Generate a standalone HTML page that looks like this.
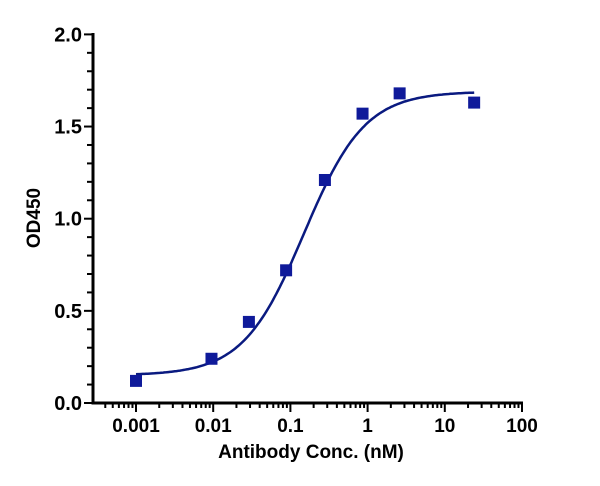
<!DOCTYPE html><html><head><style>body{margin:0;background:#fff}svg text{font-family:"Liberation Sans",Arial,sans-serif;font-weight:bold}</style></head><body>
<svg id="s" width="600" height="481" xmlns="http://www.w3.org/2000/svg"></svg>
<script>
const s=document.getElementById('s');let h='';
const X=v=>136+77.2*(Math.log10(v)+3), Y=v=>403-v*184.3;
h+='<line x1="93" y1="33" x2="93" y2="404.5" stroke="#000" stroke-width="3"/>';
h+='<line x1="92" y1="403" x2="523" y2="403" stroke="#000" stroke-width="3"/>';
for(let i=0;i<=20;i++){let y=Y(i/10),L=i%5==0?9:6;h+=`<line x1="${93-L}" y1="${y}" x2="93" y2="${y}" stroke="#000" stroke-width="2"/>`;}
['0.0','0.5','1.0','1.5','2.0'].forEach((t,i)=>h+=`<text x="82" y="${Y(i*0.5)+7}" font-size="20" text-anchor="end">${t}</text>`);
for(let d=-4;d<=2;d++)for(let m=1;m<10;m++){let v=m*Math.pow(10,d),x=X(v);if(x<96||x>523)continue;let L=m==1?9:5;h+=`<line x1="${x}" y1="403" x2="${x}" y2="${403+L}" stroke="#000" stroke-width="2"/>`;}
['0.001','0.01','0.1','1','10','100'].forEach((t,i)=>h+=`<text x="${136+77.2*i}" y="432" font-size="19" text-anchor="middle">${t}</text>`);
h+='<text x="311" y="458" font-size="19" text-anchor="middle">Antibody Conc. (nM)</text>';
h+='<text transform="translate(40,218) rotate(-90)" font-size="19" text-anchor="middle">OD450</text>';
let p='';for(let i=0;i<=200;i++){let lx=-3+i*(Math.log10(24)+3)/200,v=Math.pow(10,lx),y=0.15+1.54/(1+Math.pow(0.15/v,1.1));p+=(i?'L':'M')+X(v).toFixed(1)+','+Y(y).toFixed(1);}
h+=`<path d="${p}" fill="none" stroke="#0a1a80" stroke-width="2.5"/>`;
[[0.001,0.12],[0.0095,0.24],[0.029,0.44],[0.088,0.72],[0.28,1.21],[0.86,1.57],[2.6,1.68],[24,1.63]].forEach(([a,b])=>h+=`<rect x="${X(a)-6}" y="${Y(b)-6}" width="12" height="12" fill="#0f1a9a"/>`);
s.innerHTML=h;
</script></body></html>
